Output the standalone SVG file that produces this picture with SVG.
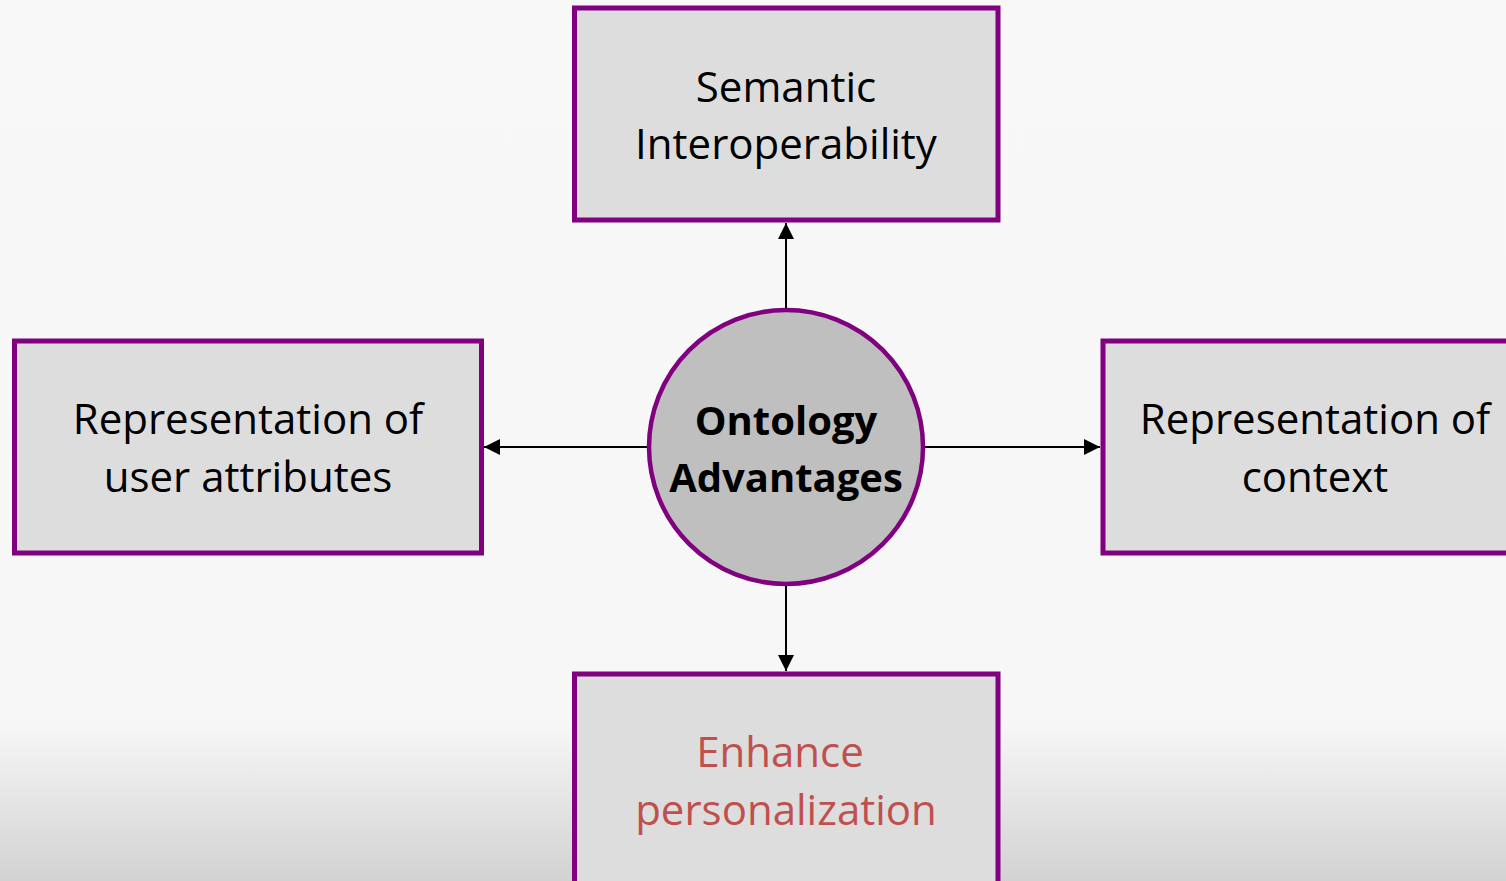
<svg xmlns="http://www.w3.org/2000/svg" width="1506" height="881" viewBox="0 0 1506 881">
  <defs>
    <linearGradient id="bg" x1="0" y1="0" x2="0" y2="881" gradientUnits="userSpaceOnUse">
      <stop offset="0" stop-color="#f8f8f8"/>
      <stop offset="0.82" stop-color="#f7f7f7"/>
      <stop offset="1" stop-color="#d2d2d2"/>
    </linearGradient>
    <marker id="arrow" viewBox="0 0 16 16" refX="16" refY="8" markerWidth="16" markerHeight="16" markerUnits="userSpaceOnUse" orient="auto">
      <path d="M0,0 L16,8 L0,16 Z" fill="#000"/>
    </marker>
    <style>
      .box { fill: #dddddd; stroke: #800080; stroke-width: 5; }
      .hub { fill: #bfbfbf; stroke: #800080; stroke-width: 4.5; }
      .lbl { font-family: "Open Sans", "Noto Sans", sans-serif; font-size: 42px; fill: #000; text-anchor: middle; }
      .bold { font-weight: bold; font-size: 40px; }
      .red { fill: #c0504d; }
      .conn { stroke: #000; stroke-width: 2; fill: none; marker-end: url(#arrow); }
    </style>
  </defs>
  <rect x="0" y="0" width="1506" height="881" fill="url(#bg)"/>

  <g id="connectors">
    <line class="conn" x1="786" y1="308" x2="786" y2="223"/>
    <line class="conn" x1="786" y1="586" x2="786" y2="671"/>
    <line class="conn" x1="648" y1="447" x2="484" y2="447"/>
    <line class="conn" x1="924" y1="447" x2="1100" y2="447"/>
  </g>

  <g id="node-semantic">
    <rect class="box" x="574.5" y="8" width="423.5" height="212"/>
    <text class="lbl" x="786" y="102">Semantic</text>
    <text class="lbl" x="786" y="159">Interoperability</text>
  </g>

  <g id="node-user">
    <rect class="box" x="14.5" y="341" width="467" height="212"/>
    <text class="lbl" x="248" y="434">Representation of</text>
    <text class="lbl" x="248" y="492">user attributes</text>
  </g>

  <g id="node-context">
    <rect class="box" x="1103" y="341" width="440" height="212"/>
    <text class="lbl" x="1315" y="434">Representation of</text>
    <text class="lbl" x="1315" y="492">context</text>
  </g>

  <g id="node-personalization">
    <rect class="box" x="574.5" y="674" width="423.5" height="230"/>
    <text class="lbl red" x="780" y="767">Enhance</text>
    <text class="lbl red" x="786" y="825">personalization</text>
  </g>

  <g id="node-hub">
    <circle class="hub" cx="786" cy="447" r="137"/>
    <text class="lbl bold" x="786" y="435">Ontology</text>
    <text class="lbl bold" x="786" y="492">Advantages</text>
  </g>
</svg>
